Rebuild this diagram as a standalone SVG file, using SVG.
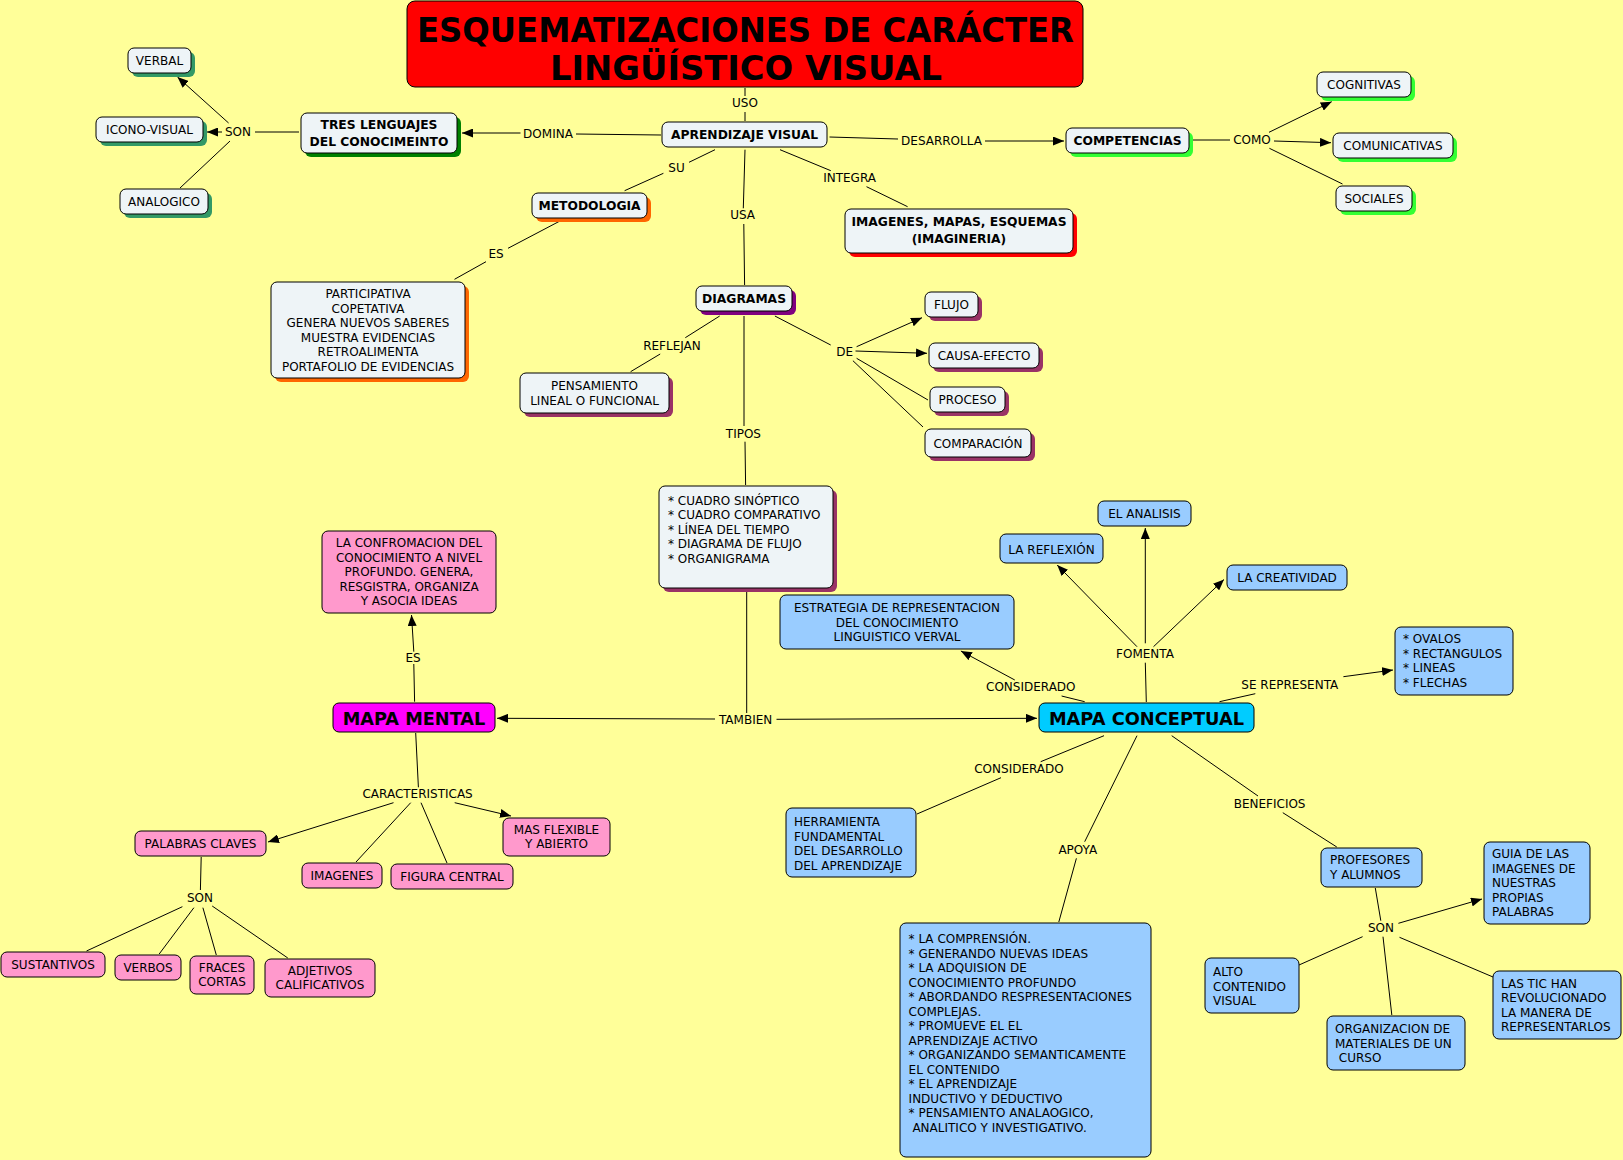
<svg xmlns="http://www.w3.org/2000/svg" width="1623" height="1160" viewBox="0 0 1623 1160">
<defs>
<marker id="arr" markerUnits="userSpaceOnUse" markerWidth="11" markerHeight="9" refX="11" refY="4.5" orient="auto"><path d="M0,0 L11,4.5 L0,9 z" fill="#000"/></marker>
<style>
text{font-family:"DejaVu Sans","Liberation Sans",sans-serif;font-size:12px;fill:#000}
.b{font-weight:bold;font-size:12.3px}
.c{text-anchor:middle}
.n{fill:#eef4f7;stroke:#000;stroke-width:1}
.p{fill:#ff99cc;stroke:#000;stroke-width:1}
.u{fill:#99ccff;stroke:#000;stroke-width:1}
.lk line{stroke:#000;stroke-width:1}
.a{marker-end:url(#arr)}
</style>
</defs>
<rect x="0" y="0" width="1623" height="1160" fill="#ffff99"/>

<g id="connectors" class="lk">
<line x1="299" y1="132" x2="255" y2="132"/>
<line class="a" x1="228.6" y1="123" x2="177.5" y2="77"/>
<line class="a" x1="222" y1="132" x2="207" y2="132"/>
<line x1="230" y1="141" x2="180" y2="188"/>
<line x1="661" y1="135" x2="576" y2="134"/>
<line class="a" x1="520.5" y1="133" x2="462" y2="133"/>
<line x1="745" y1="88" x2="745" y2="96"/>
<line x1="745" y1="112" x2="745" y2="121"/>
<line x1="829.5" y1="137" x2="898" y2="139"/>
<line class="a" x1="985" y1="141" x2="1064" y2="141"/>
<line x1="1193" y1="140" x2="1230" y2="140"/>
<line class="a" x1="1269" y1="132.3" x2="1331.7" y2="101.7"/>
<line class="a" x1="1274" y1="141" x2="1331" y2="142.7"/>
<line x1="1269.4" y1="148.3" x2="1342.5" y2="184"/>
<line x1="715" y1="149.7" x2="689" y2="162.3"/>
<line x1="663.4" y1="173.3" x2="624.6" y2="190.7"/>
<line x1="559.4" y1="221.3" x2="508" y2="248.3"/>
<line x1="486" y1="261.7" x2="454.5" y2="279.3"/>
<line x1="745" y1="149.7" x2="743.3" y2="208.3"/>
<line x1="743.8" y1="224" x2="744.6" y2="285"/>
<line x1="780" y1="149.7" x2="830.8" y2="170.7"/>
<line x1="866.5" y1="186.7" x2="907.6" y2="206.7"/>
<line x1="719.7" y1="316" x2="685.3" y2="337.7"/>
<line x1="660.2" y1="354" x2="630.6" y2="371.7"/>
<line x1="744" y1="316" x2="744" y2="426"/>
<line x1="745" y1="441.7" x2="745.6" y2="485"/>
<line x1="774.9" y1="316" x2="830.7" y2="345"/>
<line class="a" x1="856.6" y1="346.7" x2="922" y2="317.7"/>
<line class="a" x1="855.5" y1="351" x2="927" y2="353.3"/>
<line x1="856.6" y1="358.3" x2="928" y2="400"/>
<line x1="852.9" y1="360.7" x2="923" y2="427"/>
<line x1="746.7" y1="589" x2="746.7" y2="713"/>
<line class="a" x1="715" y1="719" x2="497" y2="718.3"/>
<line class="a" x1="776.5" y1="719.3" x2="1037" y2="718.3"/>
<line x1="414.6" y1="701.7" x2="413.8" y2="664"/>
<line class="a" x1="413.8" y1="651.7" x2="411.5" y2="615"/>
<line x1="415.7" y1="733" x2="418.4" y2="787.3"/>
<line class="a" x1="393.5" y1="802.7" x2="268" y2="842"/>
<line x1="410.7" y1="802.7" x2="356" y2="862"/>
<line x1="421" y1="802.7" x2="447" y2="863"/>
<line class="a" x1="454.7" y1="802.7" x2="511" y2="816"/>
<line x1="201.2" y1="857" x2="200.4" y2="890"/>
<line x1="182.4" y1="906.7" x2="86.5" y2="951"/>
<line x1="193.9" y1="907.7" x2="159.2" y2="954"/>
<line x1="202.9" y1="907.7" x2="216.3" y2="955"/>
<line x1="212.2" y1="906" x2="287.8" y2="958"/>
<line x1="1146.3" y1="702" x2="1145.3" y2="662.7"/>
<line class="a" x1="1145.3" y1="643.3" x2="1145.3" y2="528"/>
<line class="a" x1="1137" y1="646.7" x2="1057.2" y2="565"/>
<line class="a" x1="1153.5" y1="646.7" x2="1224" y2="579.5"/>
<line x1="1084.7" y1="701.7" x2="1061.6" y2="696"/>
<line class="a" x1="1014.8" y1="680" x2="960.9" y2="651"/>
<line x1="1219.5" y1="701.7" x2="1255.3" y2="693.7"/>
<line class="a" x1="1343.4" y1="676.7" x2="1393" y2="670"/>
<line x1="1104" y1="735.7" x2="1040.7" y2="761.7"/>
<line x1="1001" y1="777.7" x2="917" y2="814"/>
<line x1="1137" y1="735.7" x2="1084.7" y2="841.7"/>
<line x1="1076.4" y1="858.3" x2="1058.8" y2="922"/>
<line x1="1171.7" y1="735.7" x2="1258" y2="796"/>
<line x1="1282.8" y1="812.7" x2="1336.8" y2="847"/>
<line x1="1375.3" y1="888" x2="1380.8" y2="920.7"/>
<line class="a" x1="1398.4" y1="923.3" x2="1482" y2="899"/>
<line x1="1362.6" y1="936.7" x2="1299" y2="965"/>
<line x1="1383" y1="936.7" x2="1391.8" y2="1015"/>
<line x1="1399.5" y1="937.3" x2="1493" y2="977"/>
</g>

<g id="link-labels">
<text class="c" x="238" y="136.4">SON</text>
<text class="c" x="548" y="138">DOMINA</text>
<text class="c" x="745" y="106.5">USO</text>
<text class="c" x="941.5" y="145">DESARROLLA</text>
<text class="c" x="1252" y="144.4">COMO</text>
<text class="c" x="676.5" y="172">SU</text>
<text class="c" x="496" y="257.7">ES</text>
<text class="c" x="742.6" y="218.7">USA</text>
<text class="c" x="849.6" y="181.7">INTEGRA</text>
<text class="c" x="672" y="350">REFLEJAN</text>
<text class="c" x="743.4" y="437.7">TIPOS</text>
<text class="c" x="844.6" y="356">DE</text>
<text class="c" x="413" y="661.7">ES</text>
<text class="c" x="745.6" y="723.7">TAMBIEN</text>
<text class="c" x="417.6" y="797.7">CARACTERISTICAS</text>
<text class="c" x="200" y="902">SON</text>
<text class="c" x="1145" y="658.4">FOMENTA</text>
<text class="c" x="1030.8" y="691">CONSIDERADO</text>
<text class="c" x="1289.8" y="689.4">SE REPRESENTA</text>
<text class="c" x="1019" y="772.7">CONSIDERADO</text>
<text class="c" x="1077.8" y="854.4">APOYA</text>
<text class="c" x="1269.6" y="807.7">BENEFICIOS</text>
<text class="c" x="1381" y="932">SON</text>
</g>

<g id="title">
<rect x="407" y="1" width="676" height="86" rx="8" fill="#ff0000" stroke="#000" stroke-width="1"/>
<text class="c" x="745.5" y="42" style="font-size:34px;font-weight:bold" textLength="657" lengthAdjust="spacingAndGlyphs">ESQUEMATIZACIONES DE CARÁCTER</text>
<text class="c" x="746" y="80" style="font-size:34px;font-weight:bold" textLength="392" lengthAdjust="spacingAndGlyphs">LINGÜÍSTICO VISUAL</text>
</g>

<g id="verbal"><rect x="132" y="52" width="63" height="25" rx="6" fill="#339966"/><rect class="n" x="128" y="48" width="63" height="25" rx="6"/><text class="c" x="159.5" y="65">VERBAL</text></g>
<g id="icono-visual"><rect x="100" y="121" width="107" height="25" rx="6" fill="#339966"/><rect class="n" x="96" y="117" width="107" height="25" rx="6"/><text class="c" x="149.5" y="134">ICONO-VISUAL</text></g>
<g id="analogico"><rect x="124" y="193" width="88" height="25" rx="6" fill="#339966"/><rect class="n" x="120" y="189" width="88" height="25" rx="6"/><text class="c" x="164" y="206">ANALOGICO</text></g>
<g id="tres-lenguajes"><rect x="305" y="117" width="156" height="40" rx="6" fill="#008000"/><rect class="n" x="301" y="113" width="156" height="40" rx="6"/><text class="c b" x="379" y="128.5">TRES LENGUAJES</text><text class="c b" x="379" y="145.5">DEL CONOCIMEINTO</text></g>
<g id="aprendizaje-visual"><rect class="n" x="662" y="122" width="165" height="25" rx="6"/><text class="c b" x="744.5" y="139">APRENDIZAJE VISUAL</text></g>
<g id="competencias"><rect x="1070" y="132" width="123" height="25" rx="6" fill="#33ff33"/><rect class="n" x="1066" y="128" width="123" height="25" rx="6"/><text class="c b" x="1127.5" y="145">COMPETENCIAS</text></g>
<g id="cognitivas"><rect x="1321" y="76" width="94" height="25" rx="6" fill="#33ff33"/><rect class="n" x="1317" y="72" width="94" height="25" rx="6"/><text class="c" x="1364" y="89">COGNITIVAS</text></g>
<g id="comunicativas"><rect x="1337" y="137" width="120" height="25" rx="6" fill="#33ff33"/><rect class="n" x="1333" y="133" width="120" height="25" rx="6"/><text class="c" x="1393" y="150">COMUNICATIVAS</text></g>
<g id="sociales"><rect x="1340" y="190" width="76" height="25" rx="6" fill="#33ff33"/><rect class="n" x="1336" y="186" width="76" height="25" rx="6"/><text class="c" x="1374" y="203">SOCIALES</text></g>
<g id="metodologia"><rect x="536" y="197" width="115" height="25" rx="6" fill="#ff6600"/><rect class="n" x="532" y="193" width="115" height="25" rx="6"/><text class="c b" x="589.5" y="210">METODOLOGIA</text></g>
<g id="participativa"><rect x="275" y="286" width="194" height="96" rx="6" fill="#ff6600"/><rect class="n" x="271" y="282" width="194" height="96" rx="6"/>
<text class="c" x="368" y="298">PARTICIPATIVA</text><text class="c" x="368" y="312.5">COPETATIVA</text><text class="c" x="368" y="327">GENERA NUEVOS SABERES</text><text class="c" x="368" y="341.5">MUESTRA EVIDENCIAS</text><text class="c" x="368" y="356">RETROALIMENTA</text><text class="c" x="368" y="370.5">PORTAFOLIO DE EVIDENCIAS</text></g>
<g id="imagenes-mapas"><rect x="849" y="213" width="228" height="44" rx="6" fill="#ff0000"/><rect class="n" x="845" y="209" width="228" height="44" rx="6"/><text class="c b" x="959" y="226">IMAGENES, MAPAS, ESQUEMAS</text><text class="c b" x="959" y="243">(IMAGINERIA)</text></g>
<g id="diagramas"><rect x="700" y="290" width="96" height="25" rx="6" fill="#800080"/><rect class="n" x="696" y="286" width="96" height="25" rx="6"/><text class="c b" x="744" y="303">DIAGRAMAS</text></g>
<g id="pensamiento"><rect x="524" y="377" width="149" height="40" rx="6" fill="#993366"/><rect class="n" x="520" y="373" width="149" height="40" rx="6"/><text class="c" x="594.5" y="390">PENSAMIENTO</text><text class="c" x="594.5" y="404.5">LINEAL O FUNCIONAL</text></g>
<g id="cuadro"><rect x="663" y="490" width="174" height="102" rx="6" fill="#993366"/><rect class="n" x="659" y="486" width="174" height="102" rx="6"/>
<text x="668" y="504.5">* CUADRO SINÓPTICO</text><text x="668" y="519">* CUADRO COMPARATIVO</text><text x="668" y="533.5">* LÍNEA DEL TIEMPO</text><text x="668" y="548">* DIAGRAMA DE FLUJO</text><text x="668" y="562.5">* ORGANIGRAMA</text></g>
<g id="flujo"><rect x="929" y="296" width="53" height="25" rx="6" fill="#993366"/><rect class="n" x="925" y="292" width="53" height="25" rx="6"/><text class="c" x="951.5" y="309">FLUJO</text></g>
<g id="causa-efecto"><rect x="933" y="347" width="110" height="25" rx="6" fill="#993366"/><rect class="n" x="929" y="343" width="110" height="25" rx="6"/><text class="c" x="984" y="360">CAUSA-EFECTO</text></g>
<g id="proceso"><rect x="934" y="391" width="75" height="25" rx="6" fill="#993366"/><rect class="n" x="930" y="387" width="75" height="25" rx="6"/><text class="c" x="967.5" y="404">PROCESO</text></g>
<g id="comparacion"><rect x="929" y="433" width="106" height="28" rx="6" fill="#993366"/><rect class="n" x="925" y="429" width="106" height="28" rx="6"/><text class="c" x="978" y="448.4">COMPARACIÓN</text></g>

<g id="la-confromacion"><rect class="p" x="322" y="531" width="174" height="82" rx="6"/>
<text class="c" x="409" y="547">LA CONFROMACION DEL</text><text class="c" x="409" y="561.5">CONOCIMIENTO A NIVEL</text><text class="c" x="409" y="576">PROFUNDO. GENERA,</text><text class="c" x="409" y="590.5">RESGISTRA, ORGANIZA</text><text class="c" x="409" y="605">Y ASOCIA IDEAS</text></g>
<g id="mapa-mental"><rect x="333" y="703" width="162" height="29" rx="6" fill="#ff00ff" stroke="#000"/><text class="c" x="414" y="724.5" style="font-size:17.7px;font-weight:bold">MAPA MENTAL</text></g>
<g id="palabras-claves"><rect class="p" x="135" y="831" width="131" height="25" rx="6"/><text class="c" x="200.5" y="848">PALABRAS CLAVES</text></g>
<g id="imagenes"><rect class="p" x="302" y="863" width="80" height="25" rx="6"/><text class="c" x="342" y="880">IMAGENES</text></g>
<g id="figura-central"><rect class="p" x="391" y="864" width="122" height="25" rx="6"/><text class="c" x="452" y="881">FIGURA CENTRAL</text></g>
<g id="mas-flexible"><rect class="p" x="503" y="818" width="107" height="38" rx="6"/><text class="c" x="556.5" y="833.7">MAS FLEXIBLE</text><text class="c" x="556.5" y="848.4">Y ABIERTO</text></g>
<g id="sustantivos"><rect class="p" x="1" y="952" width="104" height="25" rx="6"/><text class="c" x="53" y="969">SUSTANTIVOS</text></g>
<g id="verbos"><rect class="p" x="115" y="955" width="66" height="25" rx="6"/><text class="c" x="148" y="972">VERBOS</text></g>
<g id="fraces-cortas"><rect class="p" x="190" y="956" width="64" height="38" rx="6"/><text class="c" x="222" y="972">FRACES</text><text class="c" x="222" y="986">CORTAS</text></g>
<g id="adjetivos"><rect class="p" x="265" y="959" width="110" height="38" rx="6"/><text class="c" x="320" y="975">ADJETIVOS</text><text class="c" x="320" y="989">CALIFICATIVOS</text></g>

<g id="mapa-conceptual"><rect x="1039" y="703" width="215" height="29" rx="6" fill="#00ccff" stroke="#000"/><text class="c" x="1146.5" y="724.5" style="font-size:17.8px;font-weight:bold">MAPA CONCEPTUAL</text></g>
<g id="el-analisis"><rect class="u" x="1098" y="501" width="93" height="25" rx="6"/><text class="c" x="1144.5" y="518">EL ANALISIS</text></g>
<g id="la-reflexion"><rect class="u" x="1000" y="534" width="103" height="29" rx="6"/><text class="c" x="1051.5" y="554.4">LA REFLEXIÓN</text></g>
<g id="la-creatividad"><rect class="u" x="1227" y="565" width="120" height="25" rx="6"/><text class="c" x="1287" y="582">LA CREATIVIDAD</text></g>
<g id="estrategia"><rect class="u" x="780" y="595" width="234" height="54" rx="6"/><text class="c" x="897" y="612">ESTRATEGIA DE REPRESENTACION</text><text class="c" x="897" y="626.7">DEL CONOCIMIENTO</text><text class="c" x="897" y="641">LINGUISTICO VERVAL</text></g>
<g id="ovalos"><rect class="u" x="1395" y="627" width="118" height="68" rx="6"/><text x="1403" y="643">* OVALOS</text><text x="1403" y="657.7">* RECTANGULOS</text><text x="1403" y="672">* LINEAS</text><text x="1403" y="686.7">* FLECHAS</text></g>
<g id="herramienta"><rect class="u" x="786" y="808" width="130" height="69" rx="6"/><text x="794" y="826">HERRAMIENTA</text><text x="794" y="840.7">FUNDAMENTAL</text><text x="794" y="855">DEL DESARROLLO</text><text x="794" y="869.7">DEL APRENDIZAJE</text></g>
<g id="apoya-lista"><rect class="u" x="900" y="923" width="251" height="234" rx="6"/>
<text x="908.6" y="943.4">* LA COMPRENSIÓN.</text>
<text x="908.6" y="957.9">* GENERANDO NUEVAS IDEAS</text>
<text x="908.6" y="972.4">* LA ADQUISION DE</text>
<text x="908.6" y="986.9">CONOCIMIENTO PROFUNDO</text>
<text x="908.6" y="1001.4">* ABORDANDO RESPRESENTACIONES</text>
<text x="908.6" y="1015.9">COMPLEJAS.</text>
<text x="908.6" y="1030.4">* PROMUEVE EL EL</text>
<text x="908.6" y="1044.9">APRENDIZAJE ACTIVO</text>
<text x="908.6" y="1059.4">* ORGANIZANDO SEMANTICAMENTE</text>
<text x="908.6" y="1073.9">EL CONTENIDO</text>
<text x="908.6" y="1088.4">* EL APRENDIZAJE</text>
<text x="908.6" y="1102.9">INDUCTIVO Y DEDUCTIVO</text>
<text x="908.6" y="1117.4">* PENSAMIENTO ANALAOGICO,</text>
<text x="908.6" y="1131.9" xml:space="preserve"> ANALITICO Y INVESTIGATIVO.</text>
</g>
<g id="profesores"><rect class="u" x="1321" y="848" width="101" height="39" rx="6"/><text x="1330" y="864.4">PROFESORES</text><text x="1330" y="878.7">Y ALUMNOS</text></g>
<g id="guia"><rect class="u" x="1484" y="842" width="106" height="82" rx="6"/><text x="1492" y="858">GUIA DE LAS</text><text x="1492" y="872.7">IMAGENES DE</text><text x="1492" y="887">NUESTRAS</text><text x="1492" y="901.7">PROPIAS</text><text x="1492" y="916">PALABRAS</text></g>
<g id="alto-contenido"><rect class="u" x="1205" y="958" width="94" height="55" rx="6"/><text x="1213" y="976">ALTO</text><text x="1213" y="990.7">CONTENIDO</text><text x="1213" y="1005">VISUAL</text></g>
<g id="organizacion"><rect class="u" x="1327" y="1016" width="138" height="54" rx="6"/><text x="1335" y="1033">ORGANIZACION DE</text><text x="1335" y="1047.7">MATERIALES DE UN</text><text x="1335" y="1062" xml:space="preserve"> CURSO</text></g>
<g id="las-tic"><rect class="u" x="1493" y="971" width="128" height="68" rx="6"/><text x="1501" y="987.7">LAS TIC HAN</text><text x="1501" y="1002.2">REVOLUCIONADO</text><text x="1501" y="1016.7">LA MANERA DE</text><text x="1501" y="1031.2">REPRESENTARLOS</text></g>
</svg>
